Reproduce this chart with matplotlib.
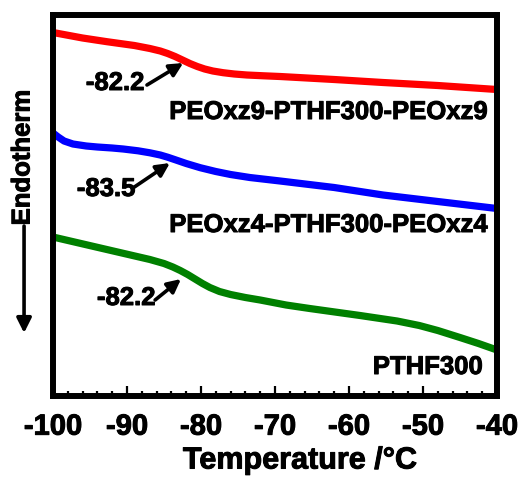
import matplotlib
matplotlib.use("Agg")
import matplotlib.pyplot as plt
import matplotlib.patheffects as pe

plt.rcParams['font.family'] = ['Liberation Sans', 'DejaVu Sans']
plt.rcParams['font.weight'] = 'bold'
plt.rcParams['axes.unicode_minus'] = False

# DSC traces, temperature in degC, heat flow in arbitrary units
temp_pez9 = [-100, -96, -92.7, -89, -86.9, -85.5, -84.5, -83.5, -82.5, -81.5, -80.5, -79.5, -78.4, -77, -75.5, -73.8, -71.5, -69.3, -62, -55.4, -48, -40]
flow_pez9 = [363.5, 358, 354.3, 350.5, 347.5, 345, 342.5, 339.5, 336, 332.5, 329.5, 327, 325, 323.3, 322, 321, 320.2, 319.5, 316.5, 313.5, 310.5, 306.5]

temp_pez4 = [-100, -99.3, -98.5, -97.3, -95.5, -94, -92, -90.5, -88.5, -86.9, -85.5, -84.5, -83.5, -82, -80.1, -78, -76, -73.4, -69.3, -62, -55.4, -48, -40]
flow_pez4 = [263, 259, 255, 252, 250, 249, 248, 247, 245.2, 243.2, 241, 238.8, 236.3, 232.5, 228.3, 224.5, 221.5, 218.5, 215, 208.5, 201, 194.5, 187.5]

temp_pthf = [-100, -93.6, -86.9, -85, -83.8, -82.8, -81.8, -80.8, -79.8, -78.8, -77.5, -76, -74, -72, -68.5, -65.3, -58.5, -53.5, -50.5, -48, -45, -42.5, -40]
flow_pthf = [159, 148, 136.5, 132.5, 129, 125.5, 121.5, 117, 112.5, 108.5, 104.5, 101.5, 98.5, 96, 91, 87.5, 80.5, 75, 70.5, 65.5, 58.5, 52.5, 46]

tg_labels = ['-82.2', '-83.5', '-82.2']
names = ['PEOxz9-PTHF300-PEOxz9', 'PEOxz4-PTHF300-PEOxz4', 'PTHF300']

heavy = [pe.withStroke(linewidth=0.7, foreground='black')]

fig = plt.figure(figsize=(5.23, 4.84), dpi=100)
ax = fig.add_axes([0.1013, 0.1818, 0.8490, 0.7872])

for t, f, c in [(temp_pez9, flow_pez9, '#ff0000'),
                (temp_pez4, flow_pez4, '#0000ff'),
                (temp_pthf, flow_pthf, '#008000')]:
    ax.plot(t, f, color=c, lw=5.2, solid_capstyle='butt', solid_joinstyle='round')

ax.set_xlim(-100, -40)
ax.set_ylim(0, 381)
ax.set_xticks(range(-100, -39, 10))
ax.set_xticks(range(-100, -39, 2), minor=True)
ax.set_yticks([])
ax.tick_params(axis='x', which='major', direction='in', length=7, width=1.6, pad=12, labelsize=21)
ax.tick_params(axis='x', which='minor', direction='in', length=3.5, width=1.6)
for lab in ax.get_xticklabels():
    lab.set_path_effects(heavy)
for s in ax.spines.values():
    s.set_linewidth(4.3)
xl = ax.set_xlabel('Temperature /\u00b0C', fontsize=22, fontweight='bold', labelpad=6,
                   path_effects=heavy)
ax.xaxis.set_label_coords(0.556, -0.13)
xl.set_va('top')

# Tg annotations: text, then arrow from tail to the curve
ann_text = [(-91.6, 313), (-92.8, 207), (-90.1, 98)]
ann_tail = [(-87.3, 311), (-89.2, 208), (-86.2, 96)]
ann_tip = [(-82.4, 333), (-84.2, 233), (-82.7, 117)]
for lab, (tx, ty), tail, tip in zip(tg_labels, ann_text, ann_tail, ann_tip):
    ax.text(tx, ty, lab, fontsize=18.5, fontweight='bold', ha='center', va='center',
            path_effects=heavy)
    ax.annotate('', xy=tip, xytext=tail,
                arrowprops=dict(arrowstyle='-|>', lw=2.6, color='k',
                                mutation_scale=20, shrinkA=0, shrinkB=0))

name_pos = [(-41.2, 284), (-41.2, 171), (-41.9, 29)]
for nm, (nx, ny) in zip(names, name_pos):
    ax.text(nx, ny, nm, fontsize=18.5, fontweight='bold', ha='right', va='center',
            path_effects=heavy)

fig.text(0.043, 0.675, 'Endotherm', rotation=90, fontsize=18.5, fontweight='bold',
         ha='center', va='center', path_effects=heavy)
ax.annotate('', xy=(0.046, 0.312), xytext=(0.046, 0.533), xycoords='figure fraction',
            textcoords='figure fraction',
            arrowprops=dict(arrowstyle='-|>', lw=2.6, color='k', mutation_scale=22,
                            shrinkA=0, shrinkB=0))

fig.savefig('out.png', dpi=100)
